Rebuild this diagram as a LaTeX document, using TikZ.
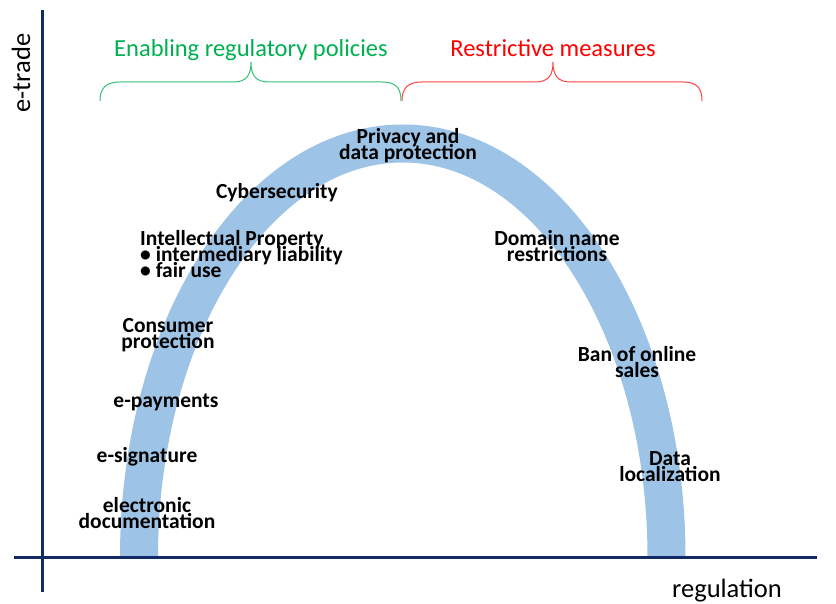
\documentclass[tikz,border=0pt]{standalone}
\usepackage{fontspec}
\setmainfont{Carlito}
\usepackage{xcolor}

\definecolor{axisblue}{RGB}{18,42,102}
\definecolor{archblue}{RGB}{157,195,230}
\definecolor{enablegreen}{RGB}{0,176,80}
\definecolor{restrictred}{RGB}{255,0,0}
\newcommand{\tightlines}{\lineskiplimit=-100pt\relax}

\begin{document}
\begin{tikzpicture}[x=1pt, y=1pt,
    every node/.style={inner sep=0pt},
    topic/.style={font={\fontsize{21.5}{16}\selectfont\bfseries\tightlines}, align=center},
    heading/.style={font=\fontsize{24.5}{28}\selectfont},
    axislabel/.style={font=\fontsize{26.5}{30}\selectfont},
    axis/.style={axisblue, line width=3pt},
    bracket/.style={line width=1pt}]
    \useasboundingbox (0,0) rectangle (836,603);

    % Arch of regulation
    \draw[archblue, line width=38pt] (139,46) arc[start angle=180, end angle=0, x radius=263.75, y radius=413.5];

    % Axes
    \draw[axis] (42,11) -- (42,593);
    \draw[axis] (14,46) -- (817,46);
    \node[axislabel, rotate=90] (etrade) at (21,530) {e-trade};
    \node[axislabel] (regulation) at (727,12) {regulation};

    % Braces and their headings
    \draw[bracket, enablegreen!80] (100,502) .. controls (100,515) and (106,521) .. (120,521) -- (233,521)
        .. controls (246,521) and (251,527) .. (251,541) .. controls (251,527) and (256,521) .. (269,521)
        -- (382,521) .. controls (396,521) and (401,515) .. (401,502);
    \draw[bracket, restrictred!75] (402,502) .. controls (402,515) and (408,521) .. (422,521) -- (535,521)
        .. controls (548,521) and (553,527) .. (553,541) .. controls (553,527) and (558,521) .. (571,521)
        -- (683,521) .. controls (697,521) and (702,515) .. (702,502);
    \node[heading, enablegreen] (enabling) at (251,553) {Enabling regulatory policies};
    \node[heading, restrictred] (restrictive) at (553,555) {Restrictive measures};

    % Enabling side
    \node[topic] (privacy) at (408,457) {Privacy and\\data protection};
    \node[topic] (cyber) at (277,410) {Cybersecurity};
    \node[topic, align=left, anchor=west] (ip) at (140,349) {Intellectual Property\\\textbullet\ intermediary liability\\\textbullet\ fair use};
    \node[topic] (consumer) at (168,268) {Consumer\\protection};
    \node[topic] (epay) at (166,201) {e-payments};
    \node[topic] (esig) at (147,146) {e-signature};
    \node[topic] (edoc) at (147,90) {electronic\\documentation};

    % Restrictive side
    \node[topic] (domain) at (557,357) {Domain name\\restrictions};
    \node[topic] (ban) at (637,241) {Ban of online\\sales};
    \node[topic] (dataloc) at (670,136) {Data\\localization};
\end{tikzpicture}
\end{document}
